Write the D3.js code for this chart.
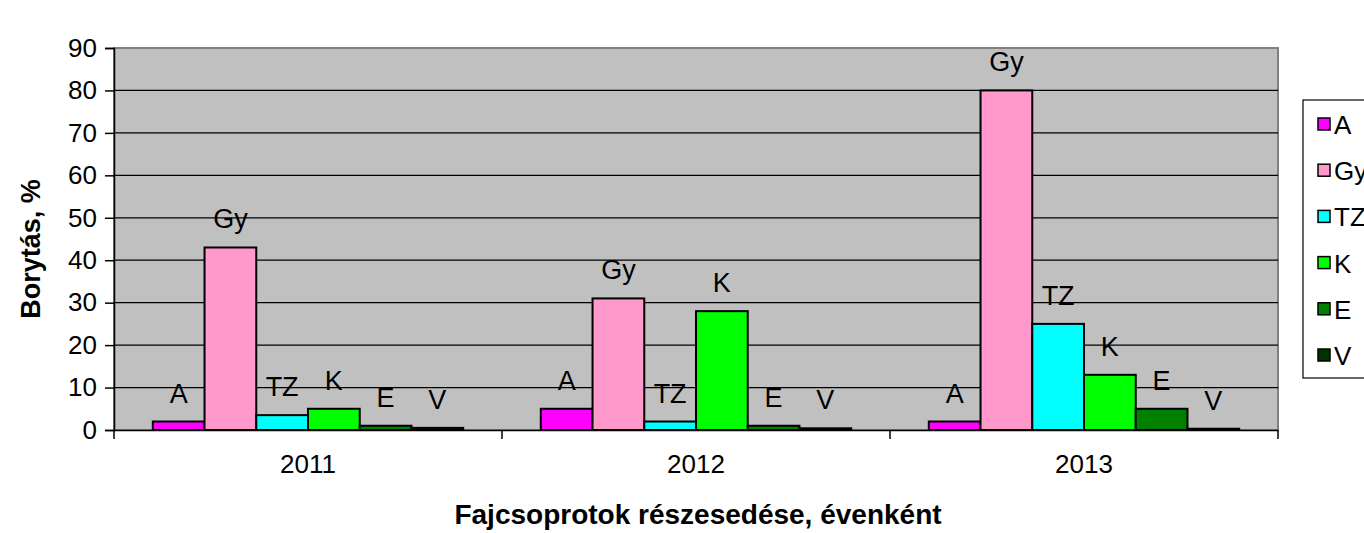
<!DOCTYPE html>
<html>
<head>
<meta charset="utf-8">
<script src="https://cdn.jsdelivr.net/npm/d3@7"></script>
<style>
  body { margin: 0; background: #fff; }
  svg { display: block; font-family: Arial, "Liberation Sans", sans-serif; }
</style>
</head>
<body>
<svg id="chart" width="1364" height="533"></svg>
<script>
// data
var years = ['2011', '2012', '2013'];
var series = ['A', 'Gy', 'TZ', 'K', 'E', 'V'];
var colors = ['#ff00ff', '#ff99cc', '#00ffff', '#00ff00', '#008000', '#003300'];
var valA = [2, 5, 2];
var valGy = [43, 31, 80];
var valTZ = [3.5, 2, 25];
var valK = [5, 28, 13];
var valE = [1, 1, 5];
var valV = [0.5, 0.4, 0.3];
var yTicks = [0, 10, 20, 30, 40, 50, 60, 70, 80, 90];

var values = [valA, valGy, valTZ, valK, valE, valV];

var plot = { left: 114, right: 1278, top: 48, bottom: 430 };

var svg = d3.select('#chart');

var x0 = d3.scaleBand().domain(years).range([plot.left, plot.right]).padding(0);
var gap = x0.bandwidth() * 1.5 / (series.length + 1.5);
var x1 = d3.scaleBand().domain(series).range([gap / 2, x0.bandwidth() - gap / 2]).padding(0);
var y = d3.scaleLinear().domain([0, 90]).range([plot.bottom, plot.top]);

// plot area background
svg.append('rect')
    .attr('x', plot.left)
    .attr('y', plot.top)
    .attr('width', plot.right - plot.left)
    .attr('height', plot.bottom - plot.top)
    .style('fill', '#c0c0c0')
    .style('stroke', '#808080')
    .style('stroke-width', 2);

// gridlines
svg.append('g')
    .selectAll('line')
    .data(yTicks.filter(function (d) { return d > 0 && d < 90; }))
    .enter()
    .append('line')
    .attr('x1', plot.left)
    .attr('x2', plot.right)
    .attr('y1', function (d) { return y(d); })
    .attr('y2', function (d) { return y(d); })
    .style('stroke', '#000')
    .style('stroke-width', 1.2);

// Y axis
var yAxis = svg.append('g')
    .attr('transform', 'translate(' + plot.left + ',0)')
    .call(d3.axisLeft(y).tickValues(yTicks).tickSize(9).tickPadding(8));
yAxis.select('.domain').attr('stroke', '#000').attr('stroke-width', 1.5);
yAxis.selectAll('.tick line').attr('stroke', '#000').attr('stroke-width', 1.5);
yAxis.selectAll('.tick text')
    .style('font-family', 'Arial, "Liberation Sans", sans-serif')
    .style('font-size', '26px')
    .style('fill', '#000');

// X axis
var xAxis = svg.append('g')
    .attr('transform', 'translate(0,' + plot.bottom + ')')
    .call(d3.axisBottom(x0).tickSize(0).tickPadding(25));
xAxis.select('.domain').attr('stroke', '#000').attr('stroke-width', 1.5);
xAxis.selectAll('.tick text')
    .style('font-family', 'Arial, "Liberation Sans", sans-serif')
    .style('font-size', '26px')
    .style('fill', '#000');

// category separators on the x axis
svg.append('g')
    .selectAll('line')
    .data(years.concat(['end']))
    .enter()
    .append('line')
    .attr('x1', function (d) { return d === 'end' ? plot.right : x0(d); })
    .attr('x2', function (d) { return d === 'end' ? plot.right : x0(d); })
    .attr('y1', plot.bottom)
    .attr('y2', plot.bottom + 9)
    .style('stroke', '#000')
    .style('stroke-width', 1.5);

// bars
var bars = [];
years.forEach(function (yr, i) {
    series.forEach(function (s, j) {
        bars.push({ year: yr, name: s, value: values[j][i], color: colors[j] });
    });
});

svg.append('g')
    .selectAll('rect')
    .data(bars)
    .enter()
    .append('rect')
    .attr('x', function (d) { return x0(d.year) + x1(d.name); })
    .attr('y', function (d) { return y(d.value); })
    .attr('width', x1.bandwidth())
    .attr('height', function (d) { return y(0) - y(d.value); })
    .style('fill', function (d) { return d.color; })
    .style('stroke', '#000')
    .style('stroke-width', 2);

// data labels (series name above bar)
svg.append('g')
    .selectAll('text')
    .data(bars)
    .enter()
    .append('text')
    .attr('x', function (d) { return x0(d.year) + x1(d.name) + x1.bandwidth() / 2; })
    .attr('y', function (d) { return y(d.value) - 19; })
    .attr('text-anchor', 'middle')
    .style('font-size', '27px')
    .style('fill', '#000')
    .text(function (d) { return d.name; });

// axis titles
svg.append('text')
    .attr('transform', 'translate(40,' + ((plot.top + plot.bottom) / 2 + 10) + ') rotate(-90)')
    .attr('text-anchor', 'middle')
    .style('font-size', '27px')
    .style('font-weight', 'bold')
    .text('Borytás, %');

svg.append('text')
    .attr('x', (plot.left + plot.right) / 2 + 2)
    .attr('y', 524)
    .attr('text-anchor', 'middle')
    .style('font-size', '28px')
    .style('font-weight', 'bold')
    .text('Fajcsoprotok részesedése, évenként');

// legend (the box runs past the right edge, as in the original)
var legend = svg.append('g').attr('transform', 'translate(1303,100)');
legend.append('rect')
    .attr('width', 90)
    .attr('height', 278)
    .style('fill', '#fff')
    .style('stroke', '#000')
    .style('stroke-width', 1.2);

var item = legend.selectAll('g.item')
    .data(series)
    .enter()
    .append('g')
    .attr('class', 'item')
    .attr('transform', function (d, i) { return 'translate(0,' + (24 + i * 46.2) + ')'; });

item.append('rect')
    .attr('x', 15)
    .attr('y', -6)
    .attr('width', 12)
    .attr('height', 12)
    .style('fill', function (d, i) { return colors[i]; })
    .style('stroke', '#000')
    .style('stroke-width', 1.5);

item.append('text')
    .attr('x', 31)
    .attr('y', 10)
    .style('font-size', '26px')
    .text(function (d) { return d; });
</script>
</body>
</html>
